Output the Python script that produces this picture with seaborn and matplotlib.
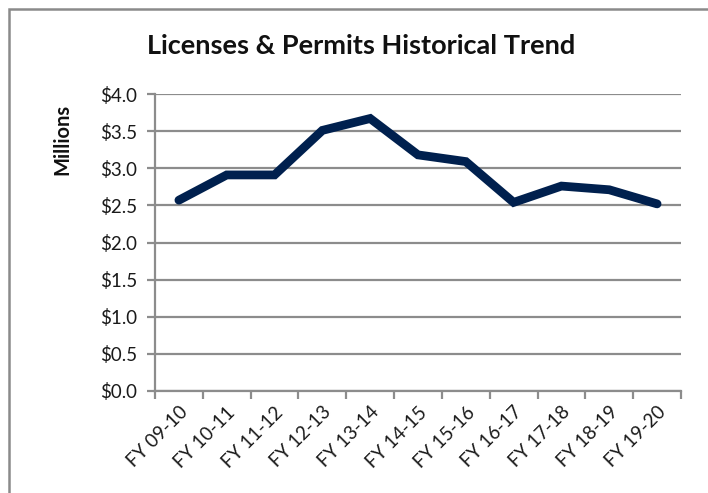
import matplotlib
matplotlib.use("Agg")
import matplotlib.pyplot as plt
from matplotlib.patches import Rectangle
import seaborn as sns
import pandas as pd
import numpy as np

categories = ["FY 09-10", "FY 10-11", "FY 11-12", "FY 12-13", "FY 13-14", "FY 14-15",
              "FY 15-16", "FY 16-17", "FY 17-18", "FY 18-19", "FY 19-20"]
values = [2.57, 2.91, 2.91, 3.51, 3.67, 3.18, 3.09, 2.54, 2.76, 2.71, 2.52]
y_ticks = [0.0, 0.5, 1.0, 1.5, 2.0, 2.5, 3.0, 3.5, 4.0]
y_tick_labels = ["$0.0", "$0.5", "$1.0", "$1.5", "$2.0", "$2.5", "$3.0", "$3.5", "$4.0"]

sns.set_theme(style="white")
plt.rcParams['font.family'] = ['Lato', 'DejaVu Sans']

W, H = 708, 493
fig = plt.figure(figsize=(W / 100, H / 100), dpi=100)
ax = fig.add_axes([155 / W, 1 - 391 / H, (681 - 155) / W, (391 - 94) / H])

df = pd.DataFrame({"pos": np.arange(len(categories)), "value": values})
grid_col = "#8c8c8c"
for yv in y_ticks:
    ax.axhline(yv, color=grid_col, lw=1.6, zorder=1)

sns.lineplot(data=df, x="pos", y="value", ax=ax, color="#00204E", linewidth=6.3,
             solid_capstyle="round", solid_joinstyle="miter", zorder=3)

ax.set_xlim(-0.5, len(categories) - 0.5)
ax.set_ylim(0, 4.0)
ax.set_yticks(y_ticks)
ax.set_yticklabels(y_tick_labels, fontsize=13.5, color="#1a1a1a")

# Category boundary ticks (major), labels at centers (minor)
ax.set_xticks(np.arange(-0.5, len(categories), 1.0))
ax.set_xticklabels([])
ax.set_xticks(np.arange(len(categories)), minor=True)
ax.set_xticklabels(categories, minor=True, rotation=45, ha="right",
                   rotation_mode="anchor", fontsize=13.5, color="#1a1a1a")
ax.tick_params(axis="x", which="minor", length=0, pad=9)
ax.tick_params(axis="x", which="major", length=6, width=1.6, color=grid_col, direction="out", bottom=True)
ax.tick_params(axis="y", which="major", length=6, width=1.6, color=grid_col, direction="out", left=True, pad=7)

for s in ["top", "right"]:
    ax.spines[s].set_visible(False)
for s in ["left", "bottom"]:
    ax.spines[s].set_visible(True)
    ax.spines[s].set_color(grid_col)
    ax.spines[s].set_linewidth(1.6)

ax.set_xlabel("")
ax.set_ylabel("")

fig.text(361 / W, 1 - 46 / H, "Licenses & Permits Historical Trend", ha="center", va="center",
         fontsize=19.5, fontweight="bold", color="#111111")
fig.text(62 / W, 1 - 139 / H, "Millions", rotation=90, ha="center", va="center",
         fontsize=14.5, fontweight="bold", color="#111111")

fig.patches.append(Rectangle((9 / W, -0.1), 1.2, 1 - 9 / H + 0.1, transform=fig.transFigure,
                             fill=False, edgecolor="#8a8a8a", linewidth=1.8))

fig.savefig("out.png", dpi=100)
